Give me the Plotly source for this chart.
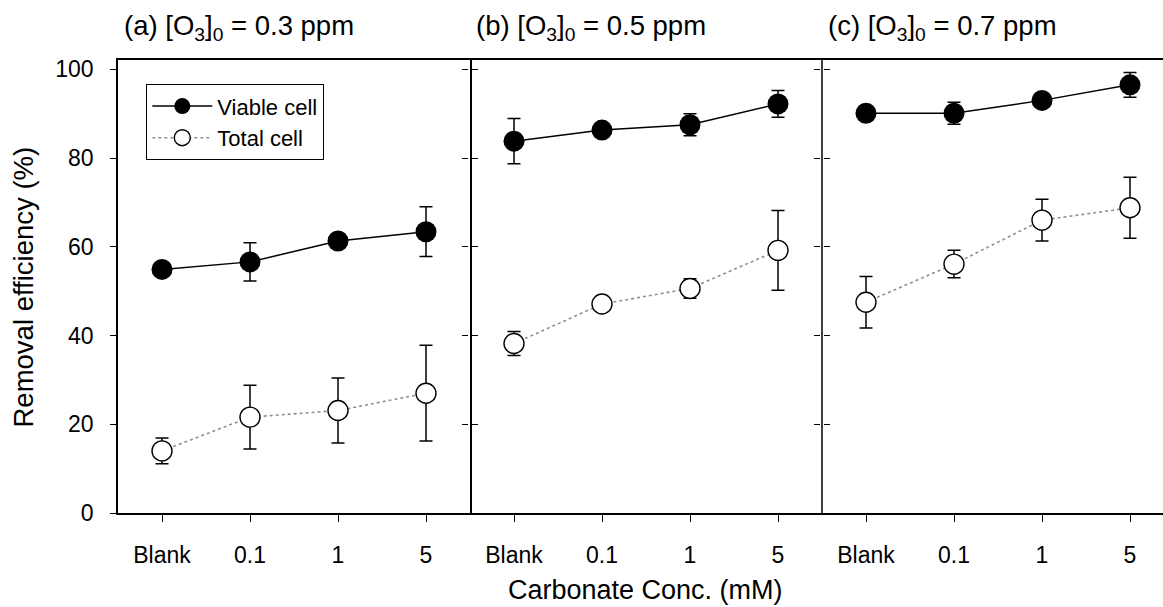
import plotly.graph_objects as go

categories = ["Blank", "0.1", "1", "5"]
panel_titles = [
    "(a) [O<sub>3</sub>]<sub>0</sub> = 0.3 ppm",
    "(b) [O<sub>3</sub>]<sub>0</sub> = 0.5 ppm",
    "(c) [O<sub>3</sub>]<sub>0</sub> = 0.7 ppm",
]

viable_a = [54.9, 56.6, 61.3, 63.4]
viable_a_err = [0.0, 4.3, 0.0, 5.6]
total_a = [14.0, 21.6, 23.1, 27.0]
total_a_err = [2.9, 7.2, 7.3, 10.8]

viable_b = [83.8, 86.3, 87.5, 92.2]
viable_b_err = [5.1, 0.0, 2.5, 3.0]
total_b = [38.2, 47.1, 50.6, 59.2]
total_b_err = [2.7, 0.0, 2.2, 9.0]

viable_c = [90.1, 90.1, 93.0, 96.5]
viable_c_err = [0.0, 2.5, 0.0, 2.8]
total_c = [47.5, 56.1, 66.0, 68.8]
total_c_err = [5.8, 3.1, 4.7, 6.9]

y_ticks = [0, 20, 40, 60, 80, 100]

panels = [
    (viable_a, viable_a_err, total_a, total_a_err),
    (viable_b, viable_b_err, total_b, total_b_err),
    (viable_c, viable_c_err, total_c, total_c_err),
]

FONT = "Liberation Sans, Arial, sans-serif"
W, H = 1163, 607
ML, MR, MT, MB = 118, 0, 60, 94
pw = W - ML - MR
ph = H - MT - MB
panel_px = 352
d1 = panel_px / pw
d2 = 2 * panel_px / pw
domains = [[0, d1], [d1, d2], [d2, 1.0]]
x_ranges = [[-0.5, 3.5], [-0.5, 3.5],
            [-0.5, 3.5 - (panel_px - (W - ML - 2 * panel_px)) / 88.0]]

fig = go.Figure()
for i, (v, ve, t, te) in enumerate(panels):
    xa = "x" if i == 0 else f"x{i+1}"
    ya = "y" if i == 0 else f"y{i+1}"
    fig.add_trace(go.Scatter(
        x=categories, y=t, xaxis=xa, yaxis=ya, mode="lines+markers",
        name="Total cell", showlegend=(i == 0),
        line=dict(color="#8f8f8f", width=1.6, dash="dot"),
        marker=dict(symbol="circle", size=20, color="white",
                    line=dict(color="black", width=1.4)),
        error_y=dict(type="data", array=te, visible=True, color="black",
                     thickness=1.5, width=6.5),
    ))
    fig.add_trace(go.Scatter(
        x=categories, y=v, xaxis=xa, yaxis=ya, mode="lines+markers",
        name="Viable cell", showlegend=(i == 0),
        line=dict(color="black", width=1.5),
        marker=dict(symbol="circle", size=21, color="black",
                    line=dict(color="black", width=0)),
        error_y=dict(type="data", array=ve, visible=True, color="black",
                     thickness=1.5, width=6.5),
    ))

layout = dict(
    width=W, height=H,
    margin=dict(l=ML, r=MR, t=MT, b=MB),
    paper_bgcolor="white", plot_bgcolor="white",
    font=dict(family=FONT, color="black"),
    legend=dict(x=(146 - ML) / pw, y=(H - MB - 84) / ph,
                xanchor="left", yanchor="top",
                bordercolor="black", borderwidth=1.3, bgcolor="white",
                font=dict(size=22, family=FONT), traceorder="reversed",
                itemsizing="trace", itemwidth=60, tracegroupgap=0),
)

for i in range(3):
    xk = "xaxis" if i == 0 else f"xaxis{i+1}"
    yk = "yaxis" if i == 0 else f"yaxis{i+1}"
    layout[xk] = dict(
        domain=domains[i], anchor="y" if i == 0 else f"y{i+1}",
        type="category", categoryorder="array", categoryarray=categories,
        range=x_ranges[i], showline=True, linecolor="black", linewidth=1.5,
        mirror=True, ticks="outside", ticklen=7, tickwidth=1.2,
        tickcolor="black", showgrid=False, zeroline=False,
        tickfont=dict(size=23, family=FONT), ticklabelstandoff=14,
    )
    layout[yk] = dict(
        domain=[0, 1], anchor="x" if i == 0 else f"x{i+1}",
        range=[0, 102.1], tickvals=y_ticks,
        showline=True,
        linecolor="black" if i == 0 else "rgba(0,0,0,0)", linewidth=1.5,
        mirror=("ticks" if i < 2 else False),
        ticks="outside", ticklen=6, tickwidth=1.2, tickcolor="black",
        showgrid=False, zeroline=False,
        showticklabels=(i == 0),
        tickfont=dict(size=23, family=FONT), ticklabelstandoff=12,
    )

fig.update_layout(**layout)

ann = []
ann.append(dict(text="Removal efficiency (%)", xref="paper", yref="paper",
                x=-(ML - 23) / pw, y=(H - MB - 287.5) / ph,
                xanchor="center", yanchor="middle",
                textangle=-90, showarrow=False, font=dict(size=27.5, family=FONT)))
ann.append(dict(text="Carbonate Conc. (mM)", xref="paper", yref="paper",
                x=(645 - ML) / pw, y=-(590 - (H - MB)) / ph,
                xanchor="center", yanchor="middle", showarrow=False,
                font=dict(size=27, family=FONT)))
for i, t in enumerate(panel_titles):
    ann.append(dict(text=t, xref="paper", yref="paper",
                    x=domains[i][0] + 4 / pw, y=1 + (MT - 27) / ph,
                    xanchor="left", yanchor="middle", showarrow=False,
                    font=dict(size=27.5, family=FONT)))
fig.update_layout(annotations=ann)

# second divider line (between panels b and c)
fig.add_shape(type="line", xref="paper", yref="paper",
              x0=domains[2][0], x1=domains[2][0], y0=0, y1=1,
              line=dict(color="black", width=1.5), layer="above")

fig.write_html("out.html")
